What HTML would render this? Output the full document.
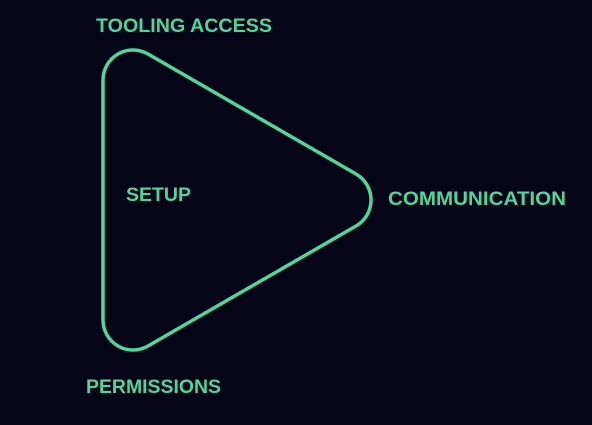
<!DOCTYPE html>
<html><head><meta charset="utf-8"><style>
html,body{margin:0;padding:0;background:#050517;width:592px;height:425px;overflow:hidden}
svg{display:block}
text{font-family:"Liberation Sans",sans-serif;font-weight:bold;font-size:19px;fill:#4fd69c}
</style></head><body>
<svg width="592" height="425" viewBox="0 0 592 425">
<rect width="592" height="425" fill="#050517"/>
<path d="M103,80 A30,30 0 0 1 148,54 L356,174 A30,30 0 0 1 356,226 L148,346 A30,30 0 0 1 103,320 Z" fill="none" stroke="#4fd69c" stroke-width="3.5" stroke-linejoin="round"/>
<text x="96" y="32" textLength="176" lengthAdjust="spacingAndGlyphs">TOOLING ACCESS</text>
<text x="126" y="201" textLength="65" lengthAdjust="spacingAndGlyphs">SETUP</text>
<text x="388" y="205" textLength="178" lengthAdjust="spacingAndGlyphs">COMMUNICATION</text>
<text x="86" y="393" textLength="135" lengthAdjust="spacingAndGlyphs">PERMISSIONS</text>
</svg>
</body></html>
